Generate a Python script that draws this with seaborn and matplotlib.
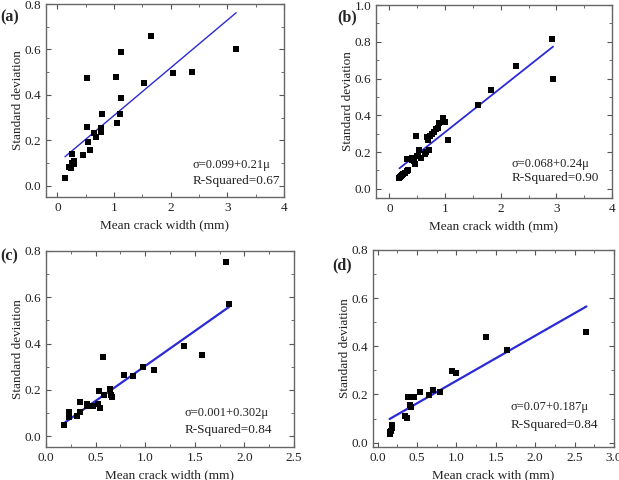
# Crack width vs. standard deviation, four panels

import numpy as np
import pandas as pd
import seaborn as sns
import matplotlib.pyplot as plt
from matplotlib.ticker import MultipleLocator

# panel (a)
a_width = [0.135, 0.20, 0.25, 0.26, 0.26, 0.30, 0.30, 0.45, 0.53, 0.53, 0.54, 0.575, 0.645, 0.686,
           0.774, 0.774, 0.79, 1.044, 1.056, 1.10, 1.126, 1.126, 1.53, 1.66, 2.04, 2.38, 3.155]
a_std = [0.034, 0.080, 0.077, 0.100, 0.140, 0.110, 0.095, 0.135, 0.476, 0.257, 0.194, 0.155, 0.234, 0.216,
         0.255, 0.235, 0.314, 0.480, 0.274, 0.314, 0.588, 0.385, 0.454, 0.661, 0.498, 0.500, 0.601]

# panel (b)
b_width = [0.18, 0.19, 0.21, 0.23, 0.25, 0.28, 0.31, 0.32, 0.33, 0.40, 0.41, 0.44, 0.455, 0.49, 0.52,
           0.485, 0.53, 0.56, 0.64, 0.68, 0.65, 0.71, 0.70, 0.73, 0.77, 0.80, 0.83, 0.87, 0.90, 0.96,
           1.00, 1.05, 1.60, 1.82, 2.28, 2.92, 2.94]
b_std = [0.058, 0.065, 0.070, 0.075, 0.080, 0.088, 0.097, 0.160, 0.100, 0.167, 0.155, 0.150, 0.136, 0.180,
         0.180, 0.290, 0.210, 0.170, 0.190, 0.280, 0.200, 0.210, 0.265, 0.285, 0.300, 0.310, 0.327, 0.333,
         0.360, 0.383, 0.362, 0.264, 0.458, 0.536, 0.667, 0.816, 0.595]

# panel (c)
c_width = [0.185, 0.23, 0.23, 0.31, 0.34, 0.34, 0.41, 0.41, 0.47, 0.52, 0.535, 0.54, 0.57, 0.58,
           0.65, 0.66, 0.67, 0.79, 0.88, 0.98, 1.09, 1.39, 1.57, 1.81, 1.85]
c_std = [0.046, 0.104, 0.082, 0.085, 0.148, 0.104, 0.137, 0.128, 0.130, 0.137, 0.197, 0.121, 0.343, 0.176,
         0.202, 0.176, 0.169, 0.265, 0.260, 0.297, 0.285, 0.390, 0.352, 0.751, 0.572]

# panel (d)
d_width = [0.15, 0.16, 0.17, 0.175, 0.18, 0.185, 0.34, 0.37, 0.39, 0.42, 0.46, 0.41, 0.425, 0.54,
           0.65, 0.70, 0.79, 0.94, 0.99, 1.38, 1.64, 2.65]
d_std = [0.035, 0.045, 0.050, 0.060, 0.070, 0.075, 0.110, 0.103, 0.188, 0.188, 0.188, 0.156, 0.149, 0.211,
         0.196, 0.219, 0.210, 0.299, 0.290, 0.439, 0.383, 0.458]

panel_names = ['(a)', '(b)', '(c)', '(d)']
widths = [a_width, b_width, c_width, d_width]
stds = [a_std, b_std, c_std, d_std]
intercepts = [0.099, 0.068, 0.001, 0.07]
slopes = [0.21, 0.24, 0.302, 0.187]
eq_texts = ['σ=0.099+0.21μ', 'σ=0.068+0.24μ', 'σ=0.001+0.302μ', 'σ=0.07+0.187μ']
r2_texts = ['R-Squared=0.67', 'R-Squared=0.90', 'R-Squared=0.84', 'R-Squared=0.84']
x_labels = ['Mean crack width (mm)', 'Mean crack width (mm)', 'Mean crack width (mm)', 'Mean crack with (mm)']

sns.set_theme(style='ticks')
plt.rcParams['font.family'] = ['Liberation Serif', 'DejaVu Serif']

fig = plt.figure(figsize=(6.19, 4.8), dpi=100)
axes_pos = [[0.0743, 0.5896, 0.3845, 0.402],
            [0.6074, 0.5875, 0.3813, 0.402],
            [0.0743, 0.0688, 0.4006, 0.4083],
            [0.6026, 0.0688, 0.3893, 0.4104]]
xlims = [(-0.2, 4), (-0.24, 4), (0, 2.5), (-0.06, 3.0)]
ylims = [(-0.05, 0.8), (-0.05, 1.0), (-0.047, 0.8), (-0.018, 0.8)]
x_major = [1, 1, 0.5, 0.5]
line_w = [1.0, 1.3, 1.6, 1.6]
text_pos = [(2.39, 0.092, 0.022), (2.2, 0.136, 0.058), (1.40, 0.10, 0.025), (1.69, 0.149, 0.072)]
tag_pos = [(0.0, 0.964), (0.545, 0.964), (0.0, 0.466), (0.537, 0.448)]

for i in range(4):
    ax = fig.add_axes(axes_pos[i])
    df = pd.DataFrame({'width': widths[i], 'std': stds[i]})
    sns.scatterplot(data=df, x='width', y='std', ax=ax, marker='s', s=20,
                    color='black', edgecolor='black', linewidth=0, zorder=3)

    # fitted line from the equation over the data range
    fit_x = np.array([df['width'].min(), df['width'].max()])
    fit = pd.DataFrame({'width': fit_x, 'std': intercepts[i] + slopes[i] * fit_x})
    sns.lineplot(data=fit, x='width', y='std', ax=ax, color='#2a2ad6', linewidth=line_w[i], zorder=2)

    ax.set_xlim(xlims[i])
    ax.set_ylim(ylims[i])
    ax.xaxis.set_major_locator(MultipleLocator(x_major[i]))
    ax.xaxis.set_minor_locator(MultipleLocator(x_major[i] / 2))
    ax.yaxis.set_major_locator(MultipleLocator(0.2))
    ax.yaxis.set_minor_locator(MultipleLocator(0.1))
    if x_major[i] == 1:
        ax.xaxis.set_major_formatter(plt.FormatStrFormatter('%d'))
    else:
        ax.xaxis.set_major_formatter(plt.FormatStrFormatter('%.1f'))
    ax.yaxis.set_major_formatter(plt.FormatStrFormatter('%.1f'))

    ax.tick_params(which='both', direction='in', top=True, right=True, colors='#555555',
                   labelcolor='#222222', labelsize=9.5)
    ax.tick_params(which='major', length=3.5, width=0.8)
    ax.tick_params(which='minor', length=2, width=0.6)
    for sp in ax.spines.values():
        sp.set_color('#666666')
        sp.set_linewidth(1.0)

    ax.set_xlabel(x_labels[i], fontsize=9.5, color='#222222')
    ax.set_ylabel('Standard deviation', fontsize=9.5, color='#222222', labelpad=0.5)

    tx, ty1, ty2 = text_pos[i]
    ax.text(tx, ty1, eq_texts[i], fontsize=9, va='center', ha='left', color='#222222')
    ax.text(tx, ty2, r2_texts[i], fontsize=9.5, va='center', ha='left', color='#222222')

    fig.text(tag_pos[i][0], tag_pos[i][1], panel_names[i], fontsize=11.5, fontweight='bold',
             va='center', ha='left')

fig.savefig('out.png', dpi=100)
